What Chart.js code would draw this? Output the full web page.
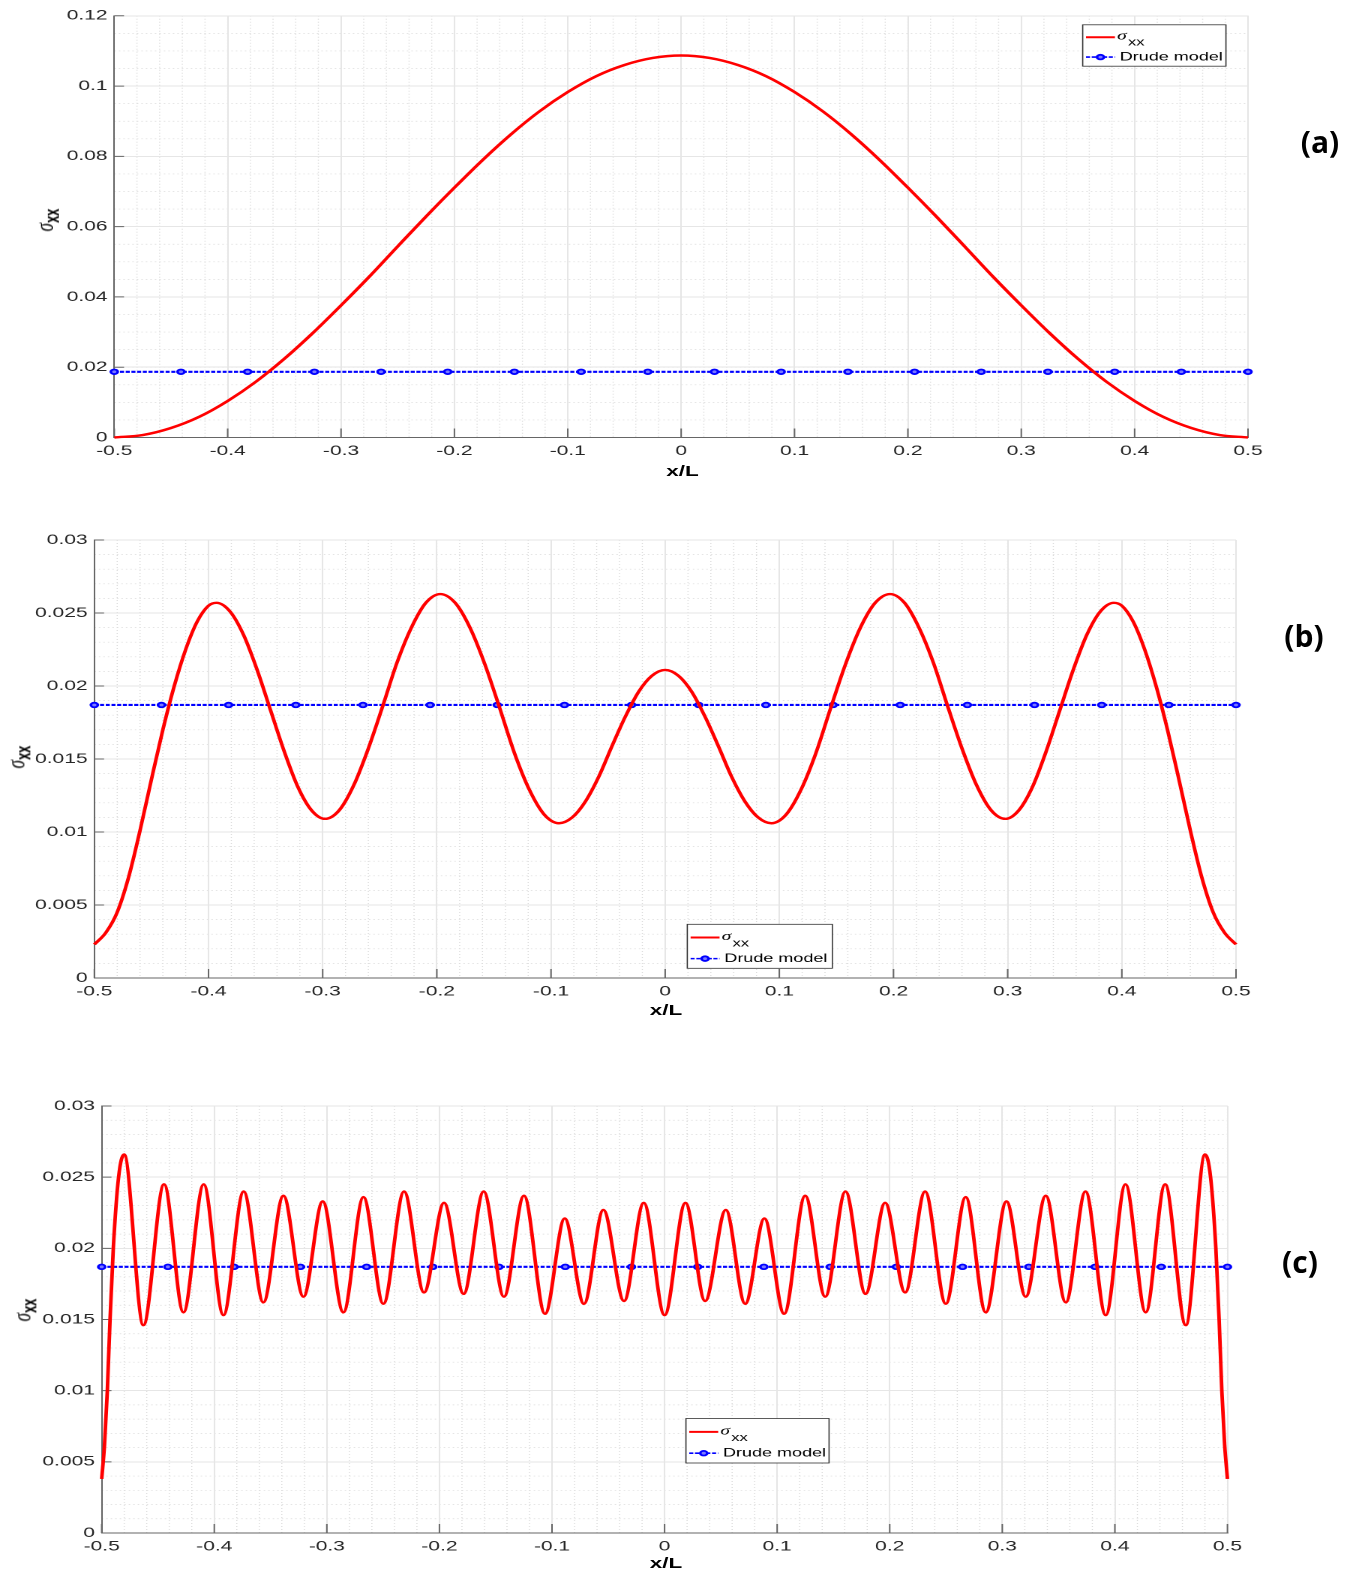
<!DOCTYPE html>
<html>
<head>
<meta charset="utf-8">
<script src="https://cdn.jsdelivr.net/npm/chart.js@4.4.1/dist/chart.umd.min.js"></script>
<style>
  body { margin: 0; background: #fff; width: 1360px; height: 1576px; overflow: hidden; position: relative; font-family: 'Liberation Sans', Arial, sans-serif; }
  /* the reference figure is stretched sideways, so the whole drawing is too */
  #stretch { position: absolute; left: 0; top: 0; width: 906px; height: 1576px; transform: scaleX(1.5); transform-origin: 0 0; }
  #stretch canvas { position: absolute; left: 0; }
  .xt { position: absolute; font-weight: bold; font-size: 15px; transform: translate(-50%, -50%); white-space: nowrap; color: #000; }
  .yt { position: absolute; font-size: 16px; transform: translate(-50%, -50%) rotate(-90deg); white-space: nowrap; color: #000; }
  .yt i { font-family: 'Liberation Serif', serif; font-size: 17px; }
  .yt sub { font-weight: bold; font-size: 13px; }
  .panel { position: absolute; font-family: 'Open Sans', sans-serif; font-weight: bold; font-size: 30px; transform: translate(-50%, -50%); color: #000; }
</style>
</head>
<body>
<div id="stretch">
  <canvas id="chartA" width="906" height="480" style="top:0px"></canvas>
  <canvas id="chartB" width="906" height="560" style="top:480px"></canvas>
  <canvas id="chartC" width="906" height="536" style="top:1040px"></canvas>
  <div class="xt" style="left:455px; top:470px">x/L</div>
  <div class="xt" style="left:444px; top:1009px">x/L</div>
  <div class="xt" style="left:444px; top:1562px">x/L</div>
  <div class="yt" style="left:30.5px; top:220px"><i>σ</i><sub>xx</sub></div>
  <div class="yt" style="left:11.5px; top:757px"><i>σ</i><sub>xx</sub></div>
  <div class="yt" style="left:16px; top:1310px"><i>σ</i><sub>xx</sub></div>
</div>
<div class="panel" style="left:1320px; top:141px">(a)</div>
<div class="panel" style="left:1304px; top:635px">(b)</div>
<div class="panel" style="left:1300px; top:1261px">(c)</div>

<script>
// axis ticks
const xTickVals = [-0.5, -0.4, -0.3, -0.2, -0.1, 0, 0.1, 0.2, 0.3, 0.4, 0.5];
const xTickLabels = ['-0.5', '-0.4', '-0.3', '-0.2', '-0.1', '0', '0.1', '0.2', '0.3', '0.4', '0.5'];
const yTickValsA = [0, 0.02, 0.04, 0.06, 0.08, 0.1, 0.12];
const yTickLabelsA = ['0', '0.02', '0.04', '0.06', '0.08', '0.1', '0.12'];
const yTickValsBC = [0, 0.005, 0.01, 0.015, 0.02, 0.025, 0.03];
const yTickLabelsBC = ['0', '0.005', '0.01', '0.015', '0.02', '0.025', '0.03'];

// Drude model (same flat line with markers in all three panels)
const drudeX = [-0.5, -0.4412, -0.3824, -0.3235, -0.2647, -0.2059, -0.1471, -0.0882, -0.0294,
                0.0294, 0.0882, 0.1471, 0.2059, 0.2647, 0.3235, 0.3824, 0.4412, 0.5];
const drudeY = [0.0187, 0.0187, 0.0187, 0.0187, 0.0187, 0.0187, 0.0187, 0.0187, 0.0187,
                0.0187, 0.0187, 0.0187, 0.0187, 0.0187, 0.0187, 0.0187, 0.0187, 0.0187];

// (a) sigma_xx
const sigmaAX = [-0.5, -0.475, -0.45, -0.425, -0.4, -0.375, -0.35, -0.325, -0.3, -0.275, -0.25,
                 -0.225, -0.2, -0.175, -0.15, -0.125, -0.1, -0.075, -0.05, -0.025, 0,
                 0.025, 0.05, 0.075, 0.1, 0.125, 0.15, 0.175, 0.2, 0.225, 0.25,
                 0.275, 0.3, 0.325, 0.35, 0.375, 0.4, 0.425, 0.45, 0.475, 0.5];
const sigmaAY = [0, 0.0007, 0.0027, 0.0059, 0.0104, 0.0159, 0.0224, 0.0297, 0.0376, 0.0458, 0.0544,
                 0.0629, 0.0711, 0.0790, 0.0863, 0.0928, 0.0983, 0.1028, 0.1060, 0.1080, 0.1087,
                 0.1080, 0.1060, 0.1028, 0.0983, 0.0928, 0.0863, 0.0790, 0.0711, 0.0629, 0.0544,
                 0.0458, 0.0376, 0.0297, 0.0224, 0.0159, 0.0104, 0.0059, 0.0027, 0.0007, 0];

// (b) sigma_xx
const sigmaBX = [-0.5, -0.49, -0.48, -0.47, -0.46, -0.45, -0.44, -0.43, -0.42, -0.41, -0.4, -0.393,
                 -0.3811, -0.3693, -0.3574, -0.3455, -0.3336, -0.3218, -0.3099, -0.298,
                 -0.2854, -0.2728, -0.2601, -0.2475, -0.2349, -0.2223, -0.2096, -0.197,
                 -0.184, -0.171, -0.158, -0.145, -0.132, -0.119, -0.106, -0.093,
                 -0.0814, -0.0698, -0.0581, -0.0465, -0.0349, -0.0233, -0.0116, 0,
                 0.0116, 0.0233, 0.0349, 0.0465, 0.0581, 0.0698, 0.0814, 0.093,
                 0.106, 0.119, 0.132, 0.145, 0.158, 0.171, 0.184, 0.197,
                 0.2096, 0.2223, 0.2349, 0.2475, 0.2601, 0.2728, 0.2854, 0.298,
                 0.3099, 0.3218, 0.3336, 0.3455, 0.3574, 0.3693, 0.3811, 0.393,
                 0.4, 0.41, 0.42, 0.43, 0.44, 0.45, 0.46, 0.47, 0.48, 0.49, 0.5];
const sigmaBY = [0.0023, 0.0031, 0.0045, 0.0069, 0.0101, 0.0136, 0.0170, 0.0200, 0.0225, 0.0244, 0.0255, 0.0257,
                 0.0251, 0.0235, 0.0211, 0.0183, 0.0155, 0.0131, 0.0115, 0.0109,
                 0.0115, 0.0132, 0.0157, 0.0186, 0.0216, 0.0240, 0.0257, 0.0263,
                 0.0257, 0.0240, 0.0215, 0.0185, 0.0154, 0.0129, 0.0112, 0.0106,
                 0.0110, 0.0121, 0.0138, 0.0159, 0.0179, 0.0196, 0.0207, 0.0211,
                 0.0207, 0.0196, 0.0179, 0.0159, 0.0138, 0.0121, 0.0110, 0.0106,
                 0.0112, 0.0129, 0.0154, 0.0185, 0.0215, 0.0240, 0.0257, 0.0263,
                 0.0257, 0.0240, 0.0216, 0.0186, 0.0157, 0.0132, 0.0115, 0.0109,
                 0.0115, 0.0131, 0.0155, 0.0183, 0.0211, 0.0235, 0.0251, 0.0257,
                 0.0255, 0.0244, 0.0225, 0.0200, 0.0170, 0.0136, 0.0101, 0.0069, 0.0045, 0.0031, 0.0023];

// (c) sigma_xx
const sigmaCX = [-0.5, -0.4975, -0.495, -0.4926, -0.4897, -0.485, -0.4801, -0.463, -0.4446, -0.4274,
                 -0.4094, -0.3919, -0.3739, -0.3564, -0.3386, -0.3208, -0.3037, -0.2853, -0.2675,
                 -0.2498, -0.2314, -0.2137, -0.1959, -0.1785, -0.1607, -0.1427, -0.1249, -0.1062,
                 -0.0887, -0.0716, -0.0544, -0.036, -0.0185, 0,
                 0.0185, 0.036, 0.0544, 0.0716, 0.0887, 0.1062, 0.1249, 0.1427, 0.1607, 0.1785,
                 0.1959, 0.2137, 0.2314, 0.2498, 0.2675, 0.2853, 0.3037, 0.3208, 0.3386, 0.3564,
                 0.3739, 0.3919, 0.4094, 0.4274, 0.4446, 0.463, 0.4801, 0.485, 0.4897, 0.4926,
                 0.495, 0.4975, 0.5];
const sigmaCY = [0.0038, 0.0062, 0.0100, 0.0150, 0.0200, 0.0250, 0.0266, 0.0146, 0.0245, 0.0155,
                 0.0245, 0.0153, 0.0240, 0.0162, 0.0237, 0.0166, 0.0233, 0.0155, 0.0236,
                 0.0161, 0.0240, 0.0169, 0.0232, 0.0168, 0.0240, 0.0166, 0.0237, 0.0154,
                 0.0221, 0.0161, 0.0227, 0.0163, 0.0232, 0.0153,
                 0.0232, 0.0163, 0.0227, 0.0161, 0.0221, 0.0154, 0.0237, 0.0166, 0.0240, 0.0168,
                 0.0232, 0.0169, 0.0240, 0.0161, 0.0236, 0.0155, 0.0233, 0.0166, 0.0237, 0.0162,
                 0.0240, 0.0153, 0.0245, 0.0155, 0.0245, 0.0146, 0.0266, 0.0250, 0.0200, 0.0150,
                 0.0100, 0.0062, 0.0038];

const tickFont = { family: "'Liberation Sans', Arial, sans-serif", size: 14 };
const tickColor = '#262626';

// minor dotted grid, inward tick marks and the in-plot legend, MATLAB style
const matlabLook = {
    id: 'matlabLook',
    beforeDraw(chart, args, opts) {
        const { ctx, chartArea: area, scales: { x, y } } = chart;
        ctx.save();
        ctx.fillStyle = '#fff';
        ctx.fillRect(0, 0, chart.width, chart.height);
        ctx.strokeStyle = '#dcdcdc';
        ctx.lineWidth = 0.7;
        ctx.setLineDash([1, 2]);
        ctx.beginPath();
        for (let v = x.min; v <= x.max + 1e-9; v += opts.xMinor) {
            const px = x.getPixelForValue(v);
            ctx.moveTo(px, area.top);
            ctx.lineTo(px, area.bottom);
        }
        for (let v = y.min; v <= y.max + 1e-9; v += opts.yMinor) {
            const py = y.getPixelForValue(v);
            ctx.moveTo(area.left, py);
            ctx.lineTo(area.right, py);
        }
        ctx.stroke();
        ctx.restore();
    },
    beforeDatasetsDraw(chart) {
        const { ctx, chartArea: area, scales: { x, y } } = chart;
        ctx.save();
        ctx.strokeStyle = '#666';
        ctx.lineWidth = 1;
        ctx.beginPath();
        x.ticks.forEach(t => {
            const px = x.getPixelForValue(t.value);
            ctx.moveTo(px, area.bottom);
            ctx.lineTo(px, area.bottom - 9);
        });
        y.ticks.forEach(t => {
            const py = y.getPixelForValue(t.value);
            ctx.moveTo(area.left, py);
            ctx.lineTo(area.left + 6.5, py);
        });
        ctx.stroke();
        ctx.restore();
    },
    afterDraw(chart, args, opts) {
        const { ctx } = chart;
        const [bx, by, bw, bh] = opts.box;
        const red = chart.data.datasets[0];
        const blue = chart.data.datasets[1];
        const x0 = bx + 2.2, x1 = bx + 21.5;
        const row1 = by + bh * 0.3, row2 = by + bh * 0.78;
        ctx.save();
        ctx.fillStyle = '#fff';
        ctx.fillRect(bx, by, bw, bh);
        ctx.strokeStyle = '#333';
        ctx.lineWidth = 0.8;
        ctx.strokeRect(bx, by, bw, bh);

        ctx.strokeStyle = red.borderColor;
        ctx.lineWidth = 2;
        ctx.beginPath();
        ctx.moveTo(x0, row1);
        ctx.lineTo(x1, row1);
        ctx.stroke();

        ctx.strokeStyle = blue.borderColor;
        ctx.lineWidth = 1.6;
        ctx.setLineDash(blue.borderDash);
        ctx.beginPath();
        ctx.moveTo(x0, row2);
        ctx.lineTo(x1, row2);
        ctx.stroke();
        ctx.setLineDash([]);
        ctx.fillStyle = blue.pointBackgroundColor;
        ctx.lineWidth = blue.pointBorderWidth;
        ctx.beginPath();
        ctx.arc((x0 + x1) / 2, row2, blue.pointRadius, 0, Math.PI * 2);
        ctx.fill();
        ctx.stroke();

        ctx.fillStyle = '#000';
        ctx.textBaseline = 'alphabetic';
        ctx.font = "italic 13px 'Liberation Serif', serif";
        ctx.fillText('σ', bx + 22.9, by + bh * 0.355);
        ctx.font = "11px 'Liberation Sans', Arial, sans-serif";
        ctx.fillText('xx', bx + 30.2, by + bh * 0.5);
        ctx.font = "12px 'Liberation Sans', Arial, sans-serif";
        ctx.textBaseline = 'middle';
        ctx.fillText('Drude model', bx + 24.7, row2);
        ctx.restore();
    }
};

function points(xs, ys) {
    return xs.map((v, i) => ({ x: v, y: ys[i] }));
}

function makeChart(id, redX, redY, yVals, yLabels, look) {
    return new Chart(document.getElementById(id), {
        type: 'line',
        data: {
            datasets: [{
                label: 'σxx',
                data: points(redX, redY),
                borderColor: '#ff0000',
                borderWidth: 2.4,
                pointRadius: 0,
                cubicInterpolationMode: 'monotone',
                clip: false
            }, {
                label: 'Drude model',
                data: points(drudeX, drudeY),
                borderColor: '#0000ff',
                borderWidth: 2.1,
                borderDash: [2.7, 1.1],
                pointRadius: 2.3,
                pointBorderWidth: 1.8,
                pointBorderColor: '#0000ff',
                pointBackgroundColor: '#7a7aff',
                clip: false
            }]
        },
        options: {
            responsive: false,
            animation: false,
            devicePixelRatio: 2,
            layout: { padding: look.padding },
            plugins: {
                legend: { display: false },
                tooltip: { enabled: false },
                matlabLook: look
            },
            scales: {
                x: {
                    type: 'linear',
                    min: -0.5,
                    max: 0.5,
                    afterBuildTicks: axis => { axis.ticks = xTickVals.map(v => ({ value: v })); },
                    afterFit: axis => { axis.height = look.xHeight; },
                    ticks: {
                        callback: (v, i) => xTickLabels[i],
                        font: tickFont,
                        color: tickColor,
                        padding: 5,
                        autoSkip: false,
                        maxRotation: 0
                    },
                    grid: { color: '#e6e6e6', drawTicks: false },
                    border: { color: '#666' }
                },
                y: {
                    min: yVals[0],
                    max: yVals[yVals.length - 1],
                    afterBuildTicks: axis => { axis.ticks = yVals.map(v => ({ value: v })); },
                    afterFit: axis => { axis.width = look.yWidth; },
                    ticks: {
                        callback: (v, i) => yLabels[i],
                        font: tickFont,
                        color: tickColor,
                        padding: 4.5,
                        autoSkip: false
                    },
                    grid: { color: '#e6e6e6', drawTicks: false },
                    border: { color: '#666' }
                }
            }
        },
        plugins: [matlabLook]
    });
}

makeChart('chartA', sigmaAX, sigmaAY, yTickValsA, yTickLabelsA, {
    padding: { left: 0, top: 15.8, right: 74, bottom: 0 },
    yWidth: 76.2, xHeight: 42.5, xMinor: 0.02, yMinor: 0.005,
    box: [721.8, 24.8, 95.5, 41.4]
});
makeChart('chartB', sigmaBX, sigmaBY, yTickValsBC, yTickLabelsBC, {
    padding: { left: 0, top: 60, right: 82, bottom: 0 },
    yWidth: 62.9, xHeight: 62, xMinor: 0.02, yMinor: 0.001,
    box: [458.2, 444.3, 96.7, 44]
});
makeChart('chartC', sigmaCX, sigmaCY, yTickValsBC, yTickLabelsBC, {
    padding: { left: 0, top: 66, right: 87.7, bottom: 0 },
    yWidth: 67.8, xHeight: 43, xMinor: 0.02, yMinor: 0.001,
    box: [457.3, 378.5, 95.4, 44.5]
});
</script>
</body>
</html>
